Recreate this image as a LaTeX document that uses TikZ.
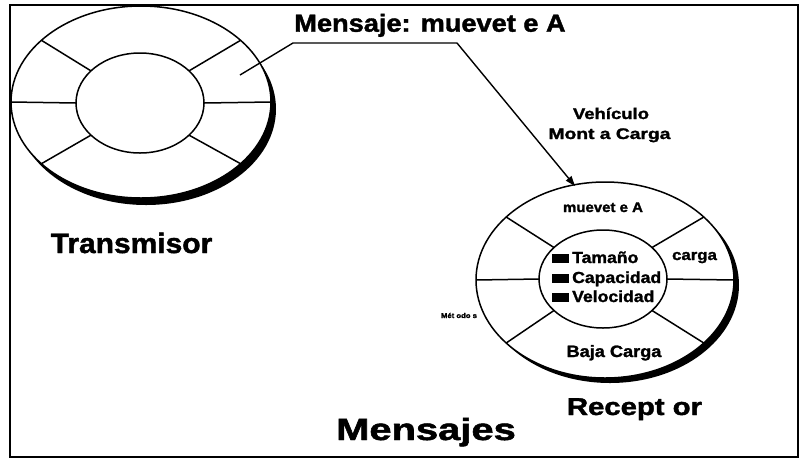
\documentclass[tikz,border=0pt]{standalone}
\usepackage{fontspec}
\setmainfont{Liberation Sans}[BoldFeatures={FakeBold=1.5}]
\usepackage{graphicx}
\usetikzlibrary{arrows.meta,calc}
\newcommand{\sx}[3]{{\fontsize{#1}{#1}\selectfont\bfseries\scalebox{#2}[1]{#3}}}
\begin{document}
\begin{tikzpicture}[x=1pt,y=-1pt,
  ring/.style={line width=1.5pt},
  lbl/.style={inner sep=0pt, anchor=base},
  conn/.style={line width=1.4pt,-{Triangle[length=10pt,width=7pt]}}]
\useasboundingbox (0,0) rectangle (801,459);
\fill[white] (0,0) rectangle (801,459);
\draw[line width=2pt] (10,5) rectangle (798,457);

% ---- Transmisor ring
\coordinate (T) at (141,102);
\coordinate (Ti) at (140,103);
\fill ([shift={(5,7)}]T) ellipse [x radius=130pt, y radius=96pt];
\filldraw[ring, fill=white] (T) ellipse [x radius=130pt, y radius=96pt];
\draw[ring] (Ti) ellipse [x radius=64pt, y radius=50pt];
\foreach \a in {0,40,140,180,220,320}
  \draw[ring] ($(T)+(\a:130pt and 96pt)$) -- ($(Ti)+(\a:64pt and 50pt)$);

% ---- Receptor ring
\coordinate (R) at (605,280);
\coordinate (Ri) at (603,279);
\fill ([shift={(5,5)}]R) ellipse [x radius=129pt, y radius=98pt];
\filldraw[ring, fill=white] (R) ellipse [x radius=129pt, y radius=98pt];
\draw[ring] (Ri) ellipse [x radius=64pt, y radius=49pt];
\foreach \a in {0,40,140,180,220,320}
  \draw[ring] ($(R)+(\a:129pt and 98pt)$) -- ($(Ri)+(\a:64pt and 49pt)$);

% ---- texts
\node[lbl] (msg) at (430,31.7) {\sx{24.7}{1.1}{Mensaje: muevet e A}};
\node[lbl] (tx) at (131.5,253) {\sx{28}{1.07}{Transmisor}};
\node[lbl] (rx) at (634.5,415) {\sx{24.4}{1.2}{Recept or}};
\node[lbl] (title) at (426,440) {\sx{30.7}{1.3}{Mensajes}};
\node[lbl] (veh1) at (611,119) {\sx{15.4}{1.2}{Vehículo}};
\node[lbl] (veh2) at (609.5,139) {\sx{15.4}{1.25}{Mont a Carga}};
\node[lbl] (mv) at (603,212) {\sx{14}{1.07}{muevet e A}};
\node[lbl] (cg) at (694.5,260) {\sx{15}{1.12}{carga}};
\node[lbl] (bj) at (614,357) {\sx{16.5}{1.1}{Baja Carga}};
\node[lbl] (mt) at (459,318) {\sx{7}{1.1}{Mét odo s}};
\node[lbl, anchor=base west] (a1) at (552,263) {\rule{17pt}{9pt}\hspace{3pt}\sx{16}{1.1}{Tamaño}};
\node[lbl, anchor=base west] (a2) at (552,283) {\rule{17pt}{9pt}\hspace{3pt}\sx{16}{1.1}{Capacidad}};
\node[lbl, anchor=base west] (a3) at (552,302) {\rule{17pt}{9pt}\hspace{3pt}\sx{16}{1.1}{Velocidad}};

% ---- connector
\coordinate (s) at (240,75);
\coordinate (b1) at (293,43);
\coordinate (b2) at (457,43);
\coordinate (e) at (575,186);
\draw[conn] (s) -- (b1) -- (b2) -- (e);
\end{tikzpicture}
\end{document}
